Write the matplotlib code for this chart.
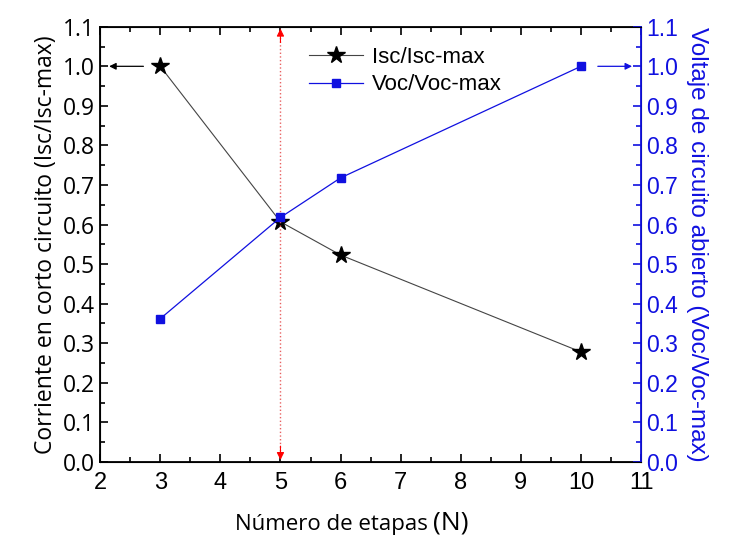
import matplotlib.pyplot as plt
from matplotlib.ticker import MultipleLocator

# data
etapas_isc = [3, 5, 6, 10]
isc_norm = [1.0, 0.607, 0.523, 0.278]
etapas_voc = [3, 5, 6, 10]
voc_norm = [0.362, 0.618, 0.718, 1.0]
n_marca = 5

lab_font = "Open Sans"
num_font = "Liberation Sans"
blue = "#1010e0"

fig, ax = plt.subplots(figsize=(7.31, 5.46), dpi=100)
fig.subplots_adjust(left=0.137, right=0.877, top=0.951, bottom=0.154)

ax2 = ax.twinx()

l1, = ax.plot(etapas_isc, isc_norm, color="#444444", lw=0.8, marker="*",
              ms=13, mfc="black", mec="black", label="Isc/Isc-max")
l2, = ax2.plot(etapas_voc, voc_norm, color=blue, lw=0.9, marker="s",
               ms=6, mfc=blue, mec=blue, label="Voc/Voc-max")

# red dotted line with arrow heads at N = 5
ax.plot([n_marca, n_marca], [0, 1.1], color="#e86060", lw=1.0, ls=":")
ax.annotate("", xy=(n_marca, 1.095), xytext=(n_marca, 1.06),
            arrowprops=dict(arrowstyle="-|>", color="red", lw=0.8,
                            mutation_scale=11, shrinkA=0, shrinkB=0))
ax.annotate("", xy=(n_marca, 0.005), xytext=(n_marca, 0.04),
            arrowprops=dict(arrowstyle="-|>", color="red", lw=0.8,
                            mutation_scale=11, shrinkA=0, shrinkB=0))

# axis pointer arrows
ax.annotate("", xy=(2.15, 1.0), xytext=(2.72, 1.0),
            arrowprops=dict(arrowstyle="-|>", color="black", lw=0.9,
                            mutation_scale=10, shrinkA=0, shrinkB=0))
ax2.annotate("", xy=(10.85, 1.0), xytext=(10.28, 1.0),
             arrowprops=dict(arrowstyle="-|>", color=blue, lw=0.9,
                             mutation_scale=10, shrinkA=0, shrinkB=0))

for a in (ax, ax2):
    a.set_xlim(2, 11)
    a.set_ylim(0, 1.1)
    a.yaxis.set_major_locator(MultipleLocator(0.1))
    a.yaxis.set_minor_locator(MultipleLocator(0.05))

ax.xaxis.set_major_locator(MultipleLocator(1))
ax.xaxis.set_minor_locator(MultipleLocator(0.5))
ax.tick_params(which="both", direction="in", top=True, width=1.2)
ax.tick_params(which="major", length=6)
ax.tick_params(which="minor", length=3.5)
ax.tick_params(axis="x", pad=7, labelsize=17)
ax.tick_params(axis="y", labelsize=16.5)
for t in ax.get_xticklabels():
    t.set_fontfamily(num_font)
for t in ax.get_yticklabels():
    t.set_fontfamily(lab_font)

ax2.tick_params(which="both", direction="in", colors=blue, width=1.2)
ax2.tick_params(which="major", length=6, labelsize=16.5)
ax2.tick_params(which="minor", length=3.5)
for t in ax2.get_yticklabels():
    t.set_fontfamily(num_font)
ax2.spines["right"].set_color(blue)
ax2.spines["right"].set_linewidth(1.3)
for s in ["left", "top", "bottom"]:
    ax.spines[s].set_linewidth(1.3)

ax.set_ylabel("Corriente en corto circuito (Isc/Isc-max)", fontsize=16.5,
              family=lab_font, labelpad=4)
ax2.set_ylabel("Voltaje de circuito abierto (Voc/Voc-max)", fontsize=17.5,
               family=num_font, color=blue, rotation=-90, labelpad=22)

# x label, "(N)" a bit bigger as in the original
fig.text(0.585, 0.03, "Número de etapas", fontsize=16, family=lab_font,
         ha="right", va="baseline")
fig.text(0.592, 0.03, "(N)", fontsize=19, family=lab_font,
         ha="left", va="baseline")

leg = ax.legend(handles=[l1, l2], loc="upper left", bbox_to_anchor=(0.35, 1.0),
                frameon=False, prop={"family": num_font, "size": 16},
                handlelength=2.4, handletextpad=0.4, labelspacing=0.3)

fig.savefig("out.png", dpi=100)
